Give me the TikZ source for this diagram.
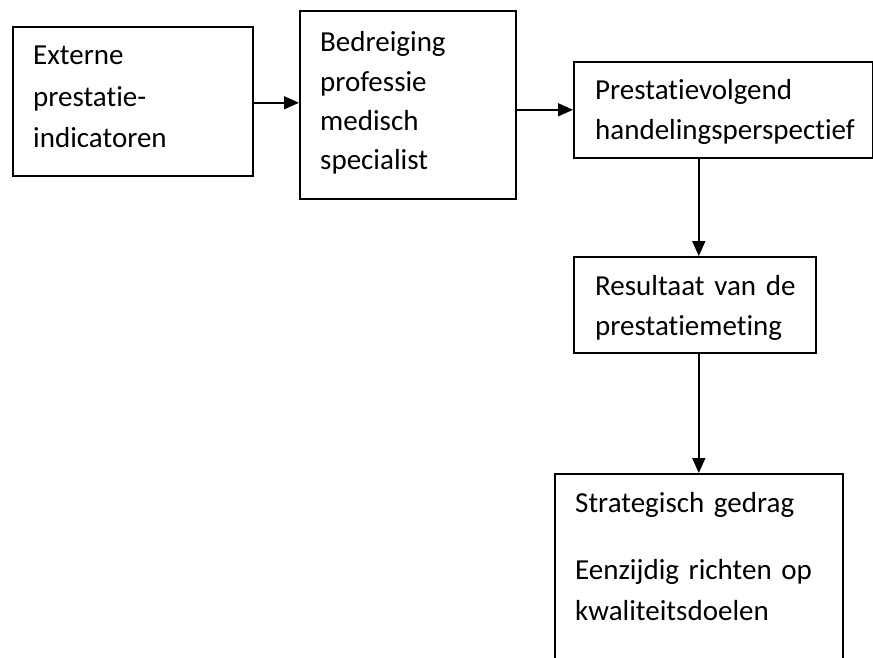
\documentclass[tikz,border=0pt]{standalone}
\usepackage{fontspec}
\setmainfont{Carlito}[Ligatures=NoCommon]
\usetikzlibrary{arrows.meta,calc}
\begin{document}
\begin{tikzpicture}[x=1pt,y=-1pt,
  boxnode/.style={draw=black,line width=1.6pt,inner sep=0pt,anchor=north west},
  txt/.style={anchor=base west,inner sep=0pt,text width=320pt,align=left},
  arr/.style={draw=black,line width=1.6pt,-{Triangle[length=15pt,width=13pt]}}]
\clip (0,0) rectangle (873,658);
\fill[white] (0,0) rectangle (873,658);
% boxes
\node[boxnode,minimum width=240pt,minimum height=149pt] (b1) at (12,26) {};
\node[boxnode,minimum width=216pt,minimum height=188pt] (b2) at (299,10) {};
\node[boxnode,minimum width=298.5pt,minimum height=96pt] (b3) at (573,61) {};
\node[boxnode,minimum width=242pt,minimum height=96pt] (b4) at (573,256) {};
\node[boxnode,minimum width=288pt,minimum height=240pt] (b5) at (554,473) {};
% texts
\node[txt,font=\fontsize{29}{41.5}\selectfont] (t1) at (33,65) {Externe\\prestatie-\\indicatoren};
\node[txt,font=\fontsize{29}{39.3}\selectfont] (t2) at (320,52) {Bedreiging\\professie\\medisch\\specialist};
\node[txt,font=\fontsize{29}{40}\selectfont] (t3) at (595,100) {Prestatievolgend\\handelingsperspectief};
\node[txt,font=\fontsize{29}{40}\selectfont] (t4) at (595,295) {Resultaat van de\\prestatiemeting};
\node[txt,font=\fontsize{29}{41}\selectfont] (t5) at (575,512) {Strategisch gedrag\\[26pt]Eenzijdig richten op\\kwaliteitsdoelen};
% arrows
\draw[arr] ([yshift=-1.5pt]b1.east) -- ([yshift=-1.5pt]b1.east -| b2.west);
\draw[arr] (b2.east |- b3.west) -- (b3.west);
\draw[arr] ([xshift=4pt]b4.north |- b3.south) -- ([xshift=4pt]b4.north);
\draw[arr] (b4.south -| b5.north) -- (b5.north);
\end{tikzpicture}
\end{document}
